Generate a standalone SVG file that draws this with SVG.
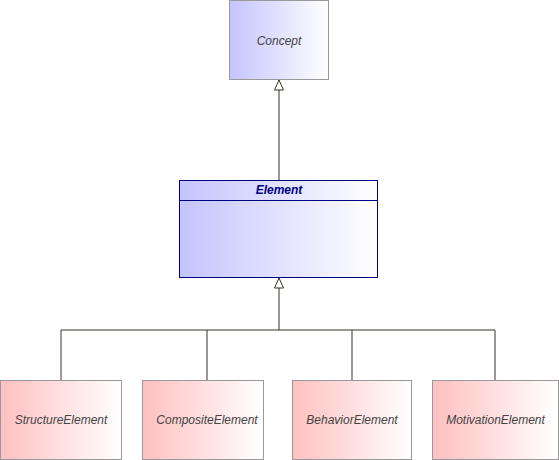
<svg xmlns="http://www.w3.org/2000/svg" width="559" height="460" viewBox="0 0 559 460">
<defs>
<linearGradient id="gBlue" x1="0" y1="0" x2="1" y2="0">
<stop offset="0" stop-color="#c4c4ff"/>
<stop offset="1" stop-color="#ffffff"/>
</linearGradient>
<linearGradient id="gPink" x1="0" y1="0" x2="1" y2="0">
<stop offset="0" stop-color="#ffc0c0"/>
<stop offset="1" stop-color="#ffffff"/>
</linearGradient>
<marker id="gen" markerWidth="12" markerHeight="10" refX="10.5" refY="5" orient="auto" markerUnits="userSpaceOnUse">
<path d="M10.5,5 L0.5,0.5 L0.5,9.5 Z" fill="#ffffff" stroke="#3a3026" stroke-width="1"/>
</marker>
</defs>
<style>
.node{stroke:#999999;stroke-width:1}
.lbl{font-family:"Liberation Sans",Arial,sans-serif;font-size:12px;font-style:italic;fill:#444444;text-anchor:middle}
.conn{fill:none;stroke:#3a3026;stroke-width:1}
</style>
<rect width="559" height="460" fill="#ffffff"/>
<g id="connectors">
<path class="conn" d="M279,180 L279,80" marker-end="url(#gen)"/>
<path class="conn" d="M61,380 L61,330 L495,330 L495,380"/>
<path class="conn" d="M207,380 L207,330"/>
<path class="conn" d="M352,380 L352,330"/>
<path class="conn" d="M279,330 L279,278" marker-end="url(#gen)"/>
</g>
<g id="Concept">
<rect class="node" x="229.5" y="0.5" width="99" height="79" fill="url(#gBlue)"/>
<text class="lbl" x="279" y="45">Concept</text>
</g>
<g id="Element">
<rect x="179.5" y="180.5" width="198" height="97" fill="url(#gBlue)" stroke="#000080" stroke-width="1"/>
<line x1="180" y1="200.5" x2="377" y2="200.5" stroke="#000080" stroke-width="1"/>
<text x="279" y="194" font-family="'Liberation Sans',Arial,sans-serif" font-size="12" font-style="italic" font-weight="bold" fill="#000080" text-anchor="middle">Element</text>
</g>
<g id="StructureElement">
<rect class="node" x="0.5" y="380.5" width="121" height="79" fill="url(#gPink)"/>
<text class="lbl" x="61" y="424">StructureElement</text>
</g>
<g id="CompositeElement">
<rect class="node" x="142.5" y="380.5" width="121" height="79" fill="url(#gPink)"/>
<text class="lbl" x="207" y="424">CompositeElement</text>
</g>
<g id="BehaviorElement">
<rect class="node" x="292.5" y="380.5" width="119" height="79" fill="url(#gPink)"/>
<text class="lbl" x="352" y="424">BehaviorElement</text>
</g>
<g id="MotivationElement">
<rect class="node" x="432.5" y="380.5" width="126" height="79" fill="url(#gPink)"/>
<text class="lbl" x="495.5" y="424">MotivationElement</text>
</g>
</svg>
